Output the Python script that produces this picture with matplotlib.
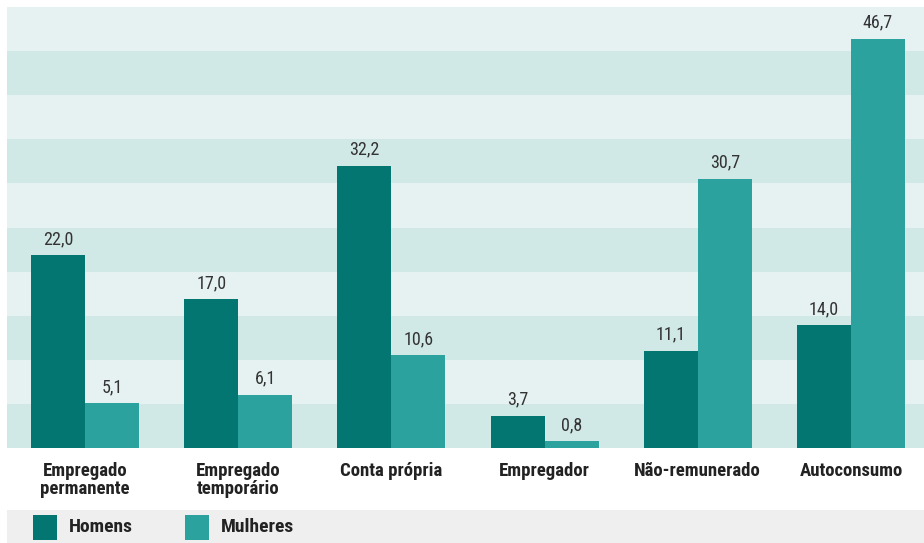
import numpy as np
import matplotlib.pyplot as plt
from matplotlib.patches import Rectangle

categories = ["Empregado\npermanente", "Empregado\ntemporário", "Conta própria",
              "Empregador", "Não-remunerado", "Autoconsumo"]
homens = [22.0, 17.0, 32.2, 3.7, 11.1, 14.0]
mulheres = [5.1, 6.1, 10.6, 0.8, 30.7, 46.7]
series_names = ["Homens", "Mulheres"]

c_dark = "#037672"
c_light = "#2ca29f"
stripe_a = "#e6f2f2"
stripe_b = "#d1e9e6"
txt = "#222222"

fam_bold = ["Roboto Condensed", "Fjalla One", "DejaVu Sans"]
fam_num = ["Roboto Condensed", "Archivo Narrow", "DejaVu Sans"]

fig = plt.figure(figsize=(9.24, 5.43), dpi=100)
W, H = 924, 543
ax = fig.add_axes([7 / W, 1 - 448 / H, 917 / W, 441 / H])

ymax = 50.3
# striped background, ten bands
band = ymax / 10
for i in range(10):
    ax.axhspan(i * band, (i + 1) * band, color=stripe_b if i % 2 == 0 else stripe_a,
               lw=0, zorder=0)

x = np.arange(len(categories))
w = 0.3525
b1 = ax.bar(x - w / 2, homens, w, color=c_dark, zorder=2)
b2 = ax.bar(x + w / 2, mulheres, w, color=c_light, zorder=2)

for bars, vals in ((b1, homens), (b2, mulheres)):
    for b, v in zip(bars, vals):
        ax.text(b.get_x() + b.get_width() / 2, v + 0.8, f"{v:.1f}".replace(".", ","),
                ha="center", va="bottom", fontsize=13, color="#333333", family=fam_num)

ax.set_ylim(0, ymax)
ax.set_xlim(-0.509, 5.477)
ax.set_xticks(x)
ax.set_xticklabels(categories, fontsize=13.5, fontweight="bold", color=txt,
                   family=fam_bold, linespacing=1.0, va="top")
ax.tick_params(axis="x", length=0, pad=10)
ax.set_yticks([])
for s in ax.spines.values():
    s.set_visible(False)

# legend band at the bottom
fig.patches.append(Rectangle((7 / W, 0), 917 / W, 33 / H, transform=fig.transFigure,
                             color="#efefef", lw=0, zorder=0))
for col, name, x0 in ((c_dark, series_names[0], 33), (c_light, series_names[1], 185)):
    fig.patches.append(Rectangle((x0 / W, 3 / H), 24 / W, 25 / H,
                                 transform=fig.transFigure, color=col, lw=0))
    fig.text((x0 + 36) / W, 15.5 / H, name, fontsize=14, fontweight="bold",
             color=txt, family=fam_bold, va="center", ha="left")

fig.savefig("out.png", dpi=100)
